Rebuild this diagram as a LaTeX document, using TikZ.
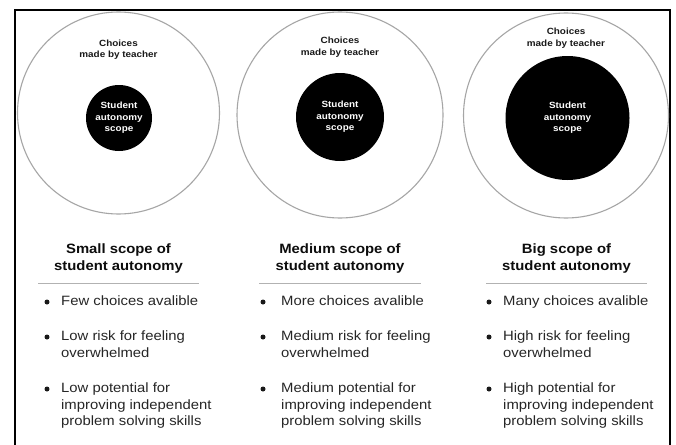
\documentclass[tikz,border=0pt]{standalone}
\usepackage{fontspec}
\setmainfont[FakeStretch=1.1]{Liberation Sans}
\begin{document}
\begin{tikzpicture}[x=1pt,y=-1pt,
  frame/.style={line width=2pt, draw=black},
  outer/.style={circle, draw=black!35, line width=1.1pt, fill=white, inner sep=0pt},
  inner/.style={circle, fill=black, text=white, inner sep=0pt, align=center, font=\bfseries\fontsize{9}{11.5}\selectfont},
  choice/.style={align=center, inner sep=0pt, font=\bfseries\fontsize{9}{11.5}\selectfont, text=black!90},
  head/.style={align=center, inner sep=0pt, font=\bfseries\fontsize{13.5}{17}\selectfont, text=black!95},
  sep/.style={draw=black!30, line width=0.9pt},
  item/.style={anchor=north west, align=left, inner sep=0pt, font=\fontsize{13.5}{16.5}\selectfont, text=black!85},
  dot/.style={circle, fill=black!90, inner sep=0pt, minimum size=5pt}
]
\useasboundingbox (0,0) rectangle (676,444);
\fill[white] (0,0) rectangle (676,444);
\draw[frame] (14.5,446) -- (14.5,10.5) -- (670,10.5) -- (670,446);

% ---------- left column ----------
\node[outer, minimum size=202pt] (o1) at (118.5,113) {};
\node[inner, minimum size=66pt] (i1) at (119,118) {Student\\autonomy\\scope};
\node[choice] (c1) at (118.5,49.5) {Choices\\made by teacher};
\node[head] (h1) at (118.5,258.5) {Small scope of\\student autonomy};
\coordinate (r1a) at (38,283); \coordinate (r1b) at (199,283);
\draw[sep] (r1a) -- (r1b);
\node[dot] (d11) at (47,302) {};
\node[item] (t11) at (61,296) {Few choices avalible};
\node[dot] (d12) at (47,337) {};
\node[item] (t12) at (61,331) {Low risk for feeling\\overwhelmed};
\node[dot] (d13) at (47,389) {};
\node[item] (t13) at (61,383) {Low potential for\\improving independent\\problem solving skills};

% ---------- middle column ----------
\node[outer, minimum size=206pt] (o2) at (340,115) {};
\node[inner, minimum size=88pt] (i2) at (340,117) {Student\\autonomy\\scope};
\node[choice] (c2) at (340,47) {Choices\\made by teacher};
\node[head] (h2) at (340,258.5) {Medium scope of\\student autonomy};
\coordinate (r2a) at (259,283); \coordinate (r2b) at (421,283);
\draw[sep] (r2a) -- (r2b);
\node[dot] (d21) at (263,302) {};
\node[item] (t21) at (281,296) {More choices avalible};
\node[dot] (d22) at (263,337) {};
\node[item] (t22) at (281,331) {Medium risk for feeling\\overwhelmed};
\node[dot] (d23) at (263,389) {};
\node[item] (t23) at (281,383) {Medium potential for\\improving independent\\problem solving skills};

% ---------- right column ----------
\node[outer, minimum size=205pt] (o3) at (566,115.5) {};
\node[inner, minimum size=124pt] (i3) at (567.5,118) {Student\\autonomy\\scope};
\node[choice] (c3) at (566,38) {Choices\\made by teacher};
\node[head] (h3) at (566.5,258.5) {Big scope of\\student autonomy};
\coordinate (r3a) at (486,283); \coordinate (r3b) at (647,283);
\draw[sep] (r3a) -- (r3b);
\node[dot] (d31) at (489,302) {};
\node[item] (t31) at (503,296) {Many choices avalible};
\node[dot] (d32) at (489,337) {};
\node[item] (t32) at (503,331) {High risk for feeling\\overwhelmed};
\node[dot] (d33) at (489,389) {};
\node[item] (t33) at (503,383) {High potential for\\improving independent\\problem solving skills};
\end{tikzpicture}
\end{document}
